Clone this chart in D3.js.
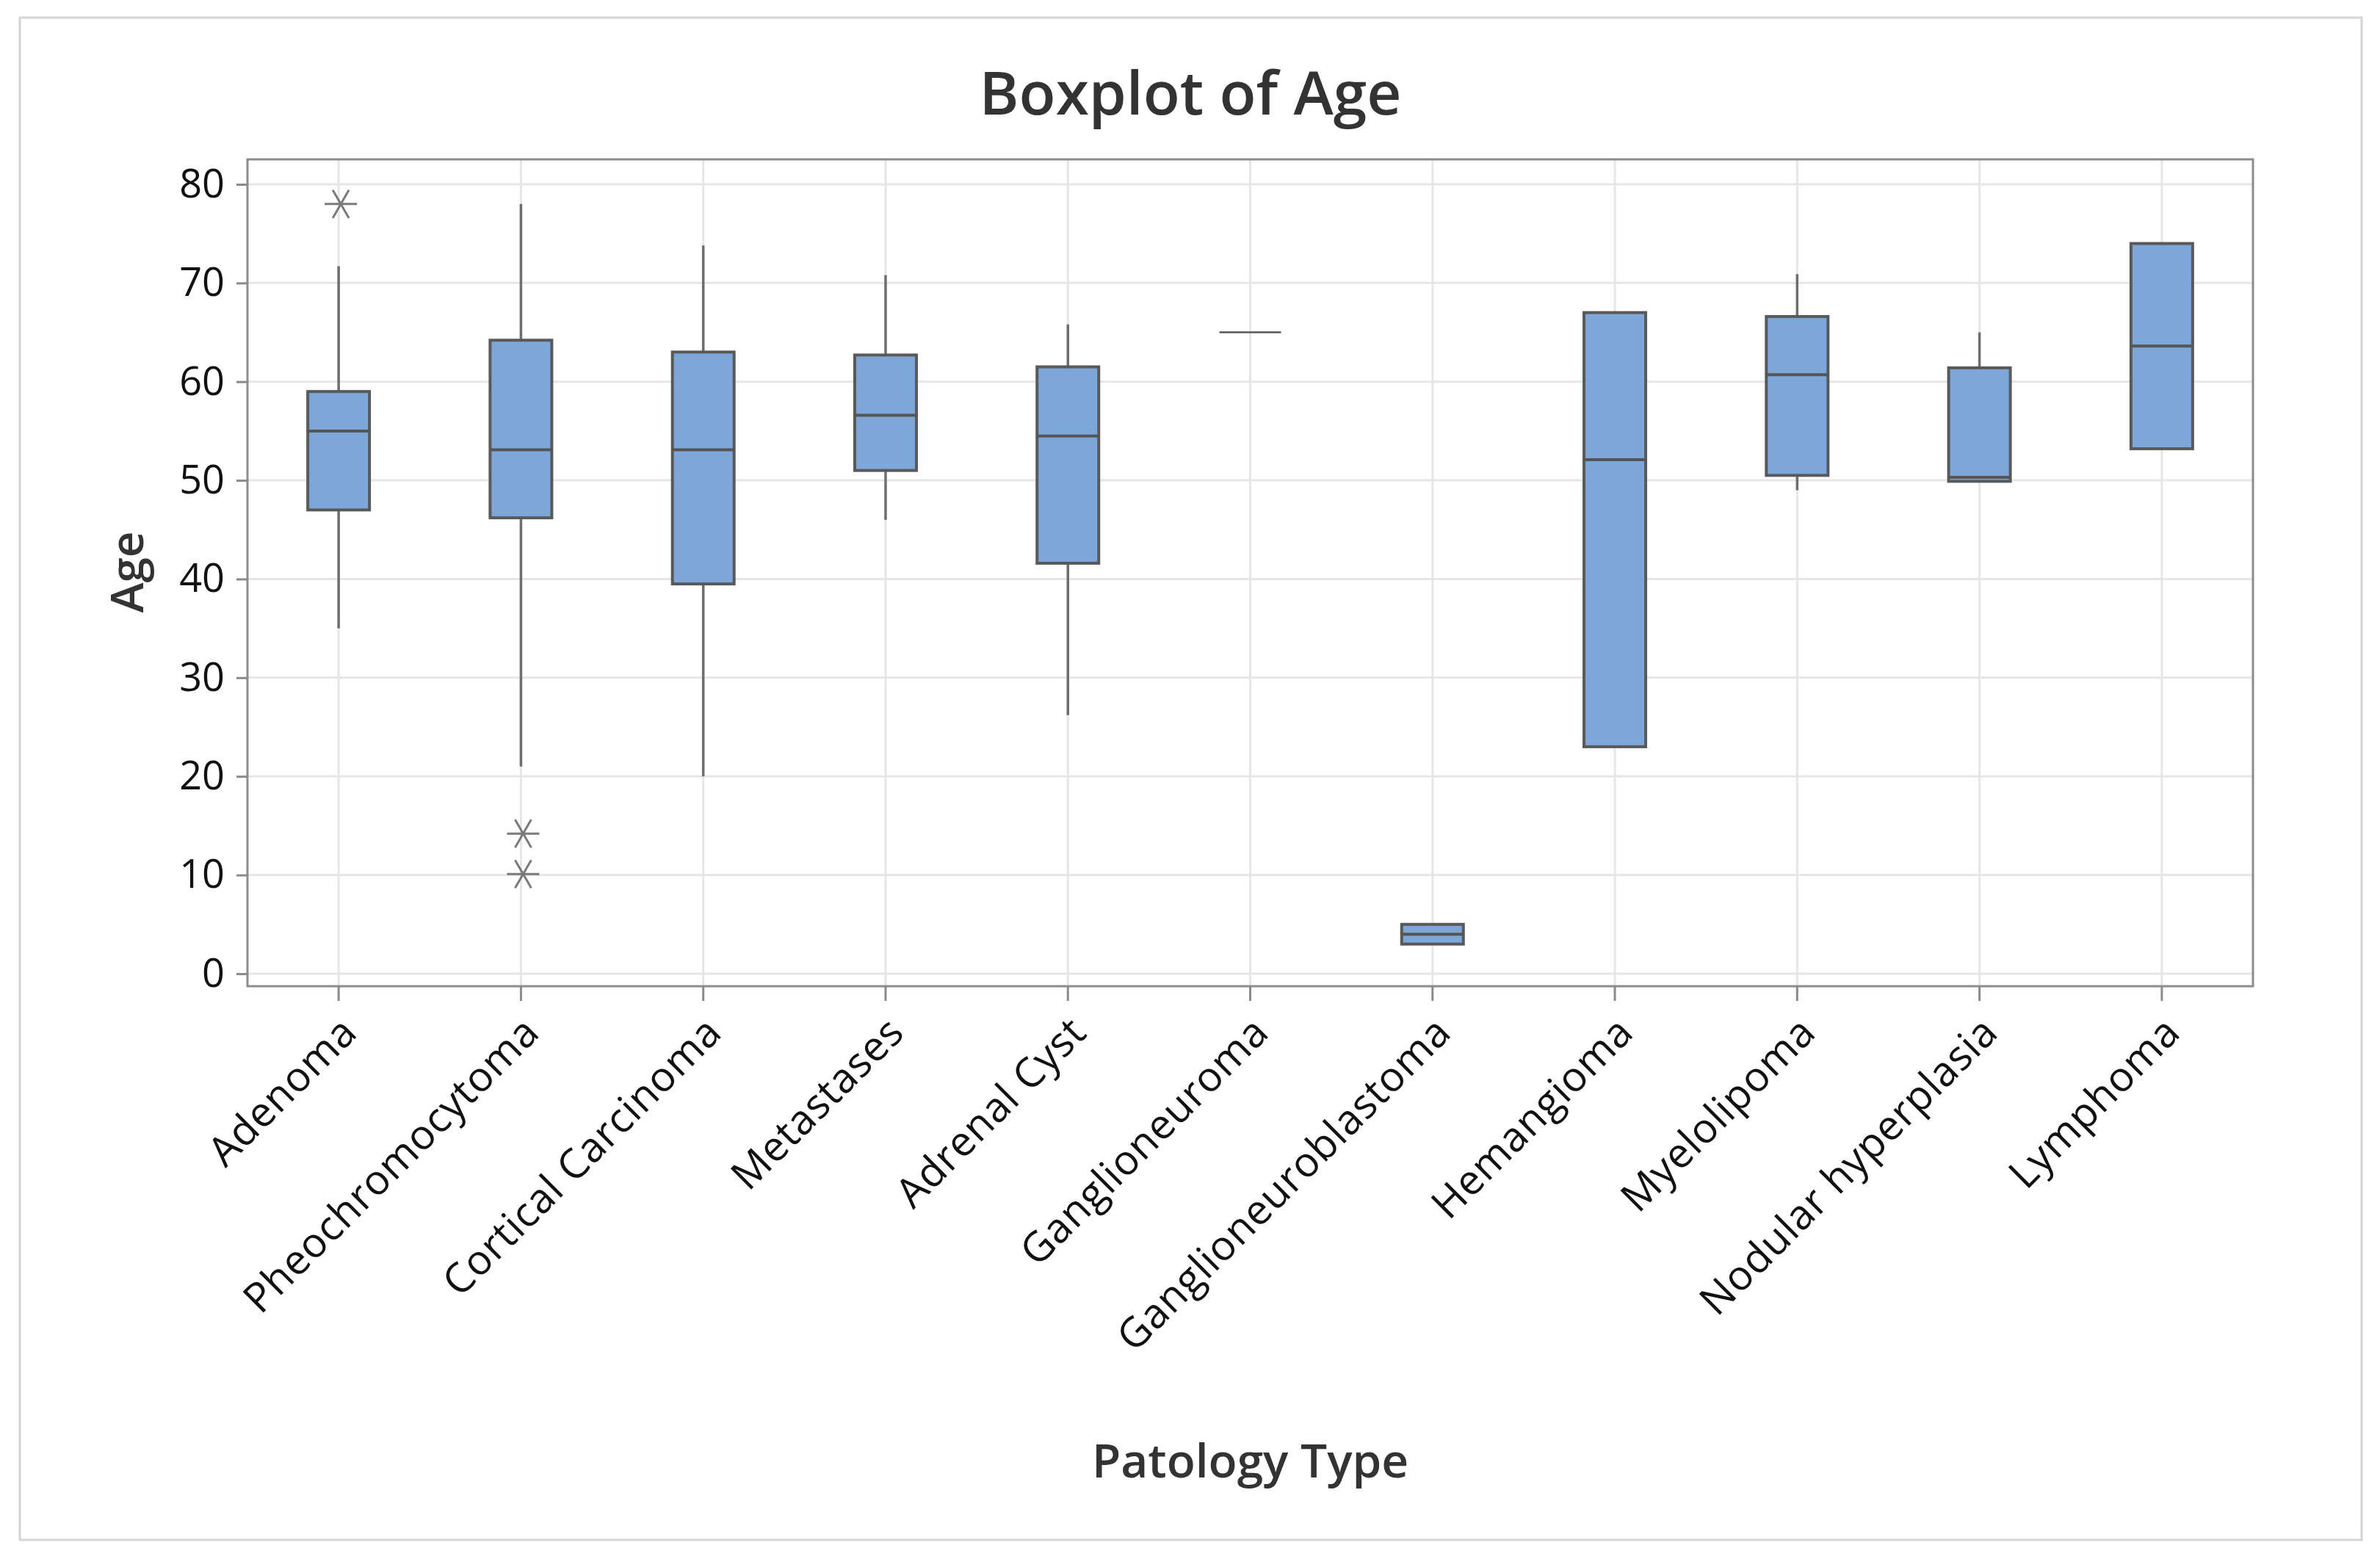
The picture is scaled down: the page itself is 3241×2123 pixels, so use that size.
<!DOCTYPE html>
<html>
<head>
<meta charset="utf-8">
<script src="https://cdn.jsdelivr.net/npm/d3@7/dist/d3.min.js"></script>
<style>
  html, body { margin: 0; padding: 0; background: #ffffff; }
  svg { display: block; }
</style>
</head>
<body>
<svg id="chart" width="3241" height="2123"></svg>
<script>
// ---- Data ----
const categories = ["Adenoma", "Pheochromocytoma", "Cortical Carcinoma", "Metastases", "Adrenal Cyst",
  "Ganglioneuroma", "Ganglioneuroblastoma", "Hemangioma", "Myelolipoma", "Nodular hyperplasia", "Lymphoma"];
const whiskerLow  = [35.0, 21.0, 20.0, 46.0, 26.2, 65.0, 3.0, 23.0, 49.0, 49.9, 53.2];
const q1Values    = [47.0, 46.2, 39.5, 51.0, 41.6, 65.0, 3.0, 23.0, 50.5, 49.9, 53.2];
const medianValues= [55.0, 53.1, 53.1, 56.6, 54.5, 65.0, 4.0, 52.1, 60.7, 50.3, 63.6];
const q3Values    = [59.0, 64.2, 63.0, 62.7, 61.5, 65.0, 5.0, 67.0, 66.6, 61.4, 74.0];
const whiskerHigh = [71.7, 78.0, 73.8, 70.8, 65.8, 65.0, 5.0, 67.0, 70.9, 65.0, 74.0];
const outlierCategory = ["Adenoma", "Pheochromocytoma", "Pheochromocytoma"];
const outlierValue    = [78.0, 14.2, 10.1];
const yTicks = [0, 10, 20, 30, 40, 50, 60, 70, 80];

const titleText = "Boxplot of Age";
const xTitle = "Patology Type";
const yTitle = "Age";

// ---- Layout ----
const plot = { left: 337, top: 217, right: 3068, bottom: 1343 };
const svg = d3.select("#chart");
const FONT = "'Open Sans', 'Noto Sans', 'DejaVu Sans', sans-serif";

// outer frame
svg.append("rect").attr("x", 27).attr("y", 24).attr("width", 3216 - 27).attr("height", 2097 - 24)
  .attr("fill", "#ffffff").attr("stroke", "#d4d4d4").attr("stroke-width", 3);

const x = d3.scaleBand().domain(categories).range([plot.left, plot.right]).paddingInner(0).paddingOuter(0);
const y = d3.scaleLinear().domain([-1.27, 82.53]).range([plot.bottom, plot.top]);
const cx = c => x(c) + x.bandwidth() / 2;
const boxW = 84;

// gridlines
const grid = svg.append("g");
grid.selectAll("line.h").data(yTicks).join("line")
  .attr("x1", plot.left).attr("x2", plot.right)
  .attr("y1", d => y(d)).attr("y2", d => y(d))
  .attr("stroke", "#e6e6e6").attr("stroke-width", 3);
grid.selectAll("line.v").data(categories).join("line")
  .attr("x1", d => cx(d)).attr("x2", d => cx(d))
  .attr("y1", plot.top).attr("y2", plot.bottom)
  .attr("stroke", "#e6e6e6").attr("stroke-width", 3);

// y axis
const yAxis = d3.axisLeft(y).tickValues(yTicks).tickSize(15).tickPadding(16).tickFormat(d3.format("d"));
const gy = svg.append("g").attr("transform", `translate(${plot.left},0)`).call(yAxis);
gy.select(".domain").remove();
gy.selectAll(".tick line").attr("stroke", "#8a8a8a").attr("stroke-width", 3);
gy.selectAll(".tick text").attr("font-family", FONT).attr("font-size", 54).attr("fill", "#111111");

// x axis
const xAxis = d3.axisBottom(x).tickSize(20).tickFormat("");
const gx = svg.append("g").attr("transform", `translate(0,${plot.bottom})`).call(xAxis);
gx.select(".domain").remove();
gx.selectAll(".tick line").attr("stroke", "#8a8a8a").attr("stroke-width", 3);

// x tick labels rotated
svg.append("g").selectAll("text").data(categories).join("text")
  .attr("transform", d => `translate(${cx(d) + 28},${plot.bottom + 66}) rotate(-45)`)
  .attr("text-anchor", "end")
  .attr("font-family", FONT).attr("font-size", 56).attr("letter-spacing", 0.8).attr("fill", "#111111")
  .text(d => d);

// plot frame
svg.append("rect").attr("x", plot.left).attr("y", plot.top)
  .attr("width", plot.right - plot.left).attr("height", plot.bottom - plot.top)
  .attr("fill", "none").attr("stroke", "#8c8c8c").attr("stroke-width", 3);

// boxes
const stats = categories.map((c, i) => ({
  c, lo: whiskerLow[i], q1: q1Values[i], med: medianValues[i], q3: q3Values[i], hi: whiskerHigh[i]
}));
const g = svg.append("g");
stats.forEach(s => {
  const xc = cx(s.c);
  if (s.hi > s.q3) g.append("line").attr("x1", xc).attr("x2", xc).attr("y1", y(s.q3)).attr("y2", y(s.hi))
    .attr("stroke", "#6e6e6e").attr("stroke-width", 3.5);
  if (s.lo < s.q1) g.append("line").attr("x1", xc).attr("x2", xc).attr("y1", y(s.q1)).attr("y2", y(s.lo))
    .attr("stroke", "#6e6e6e").attr("stroke-width", 3.5);
  if (s.q3 > s.q1) {
    g.append("rect").attr("x", xc - boxW / 2).attr("y", y(s.q3))
      .attr("width", boxW).attr("height", y(s.q1) - y(s.q3))
      .attr("fill", "#7da7d9").attr("stroke", "#595959").attr("stroke-width", 4);
    g.append("line").attr("x1", xc - boxW / 2).attr("x2", xc + boxW / 2)
      .attr("y1", y(s.med)).attr("y2", y(s.med))
      .attr("stroke", "#555555").attr("stroke-width", 4);
  } else {
    g.append("line").attr("x1", xc - boxW / 2).attr("x2", xc + boxW / 2)
      .attr("y1", y(s.med)).attr("y2", y(s.med))
      .attr("stroke", "#555555").attr("stroke-width", 2.5);
  }
});

// outliers (asterisks)
const r = 22;
const star = svg.append("g");
outlierCategory.forEach((c, i) => {
  const px = cx(c) + 3, py = y(outlierValue[i]);
  [0, 60, -60].forEach(a => {
    const rad = a * Math.PI / 180;
    star.append("line")
      .attr("x1", px - r * Math.cos(rad)).attr("y1", py - r * Math.sin(rad))
      .attr("x2", px + r * Math.cos(rad)).attr("y2", py + r * Math.sin(rad))
      .attr("stroke", "#7a7a7a").attr("stroke-width", 3);
  });
});

// titles
svg.append("text").attr("x", 1621).attr("y", 156).attr("text-anchor", "middle")
  .attr("font-family", FONT).attr("font-size", 82).attr("font-weight", 600).attr("fill", "#333333")
  .text(titleText);
svg.append("text").attr("transform", "translate(195,779) rotate(-90)").attr("text-anchor", "middle")
  .attr("font-family", FONT).attr("font-size", 62).attr("font-weight", 600).attr("fill", "#333333")
  .text(yTitle);
svg.append("text").attr("x", (plot.left + plot.right) / 2).attr("y", 2012).attr("text-anchor", "middle")
  .attr("font-family", FONT).attr("font-size", 64).attr("font-weight", 600).attr("fill", "#333333")
  .text(xTitle);
</script>
</body>
</html>
